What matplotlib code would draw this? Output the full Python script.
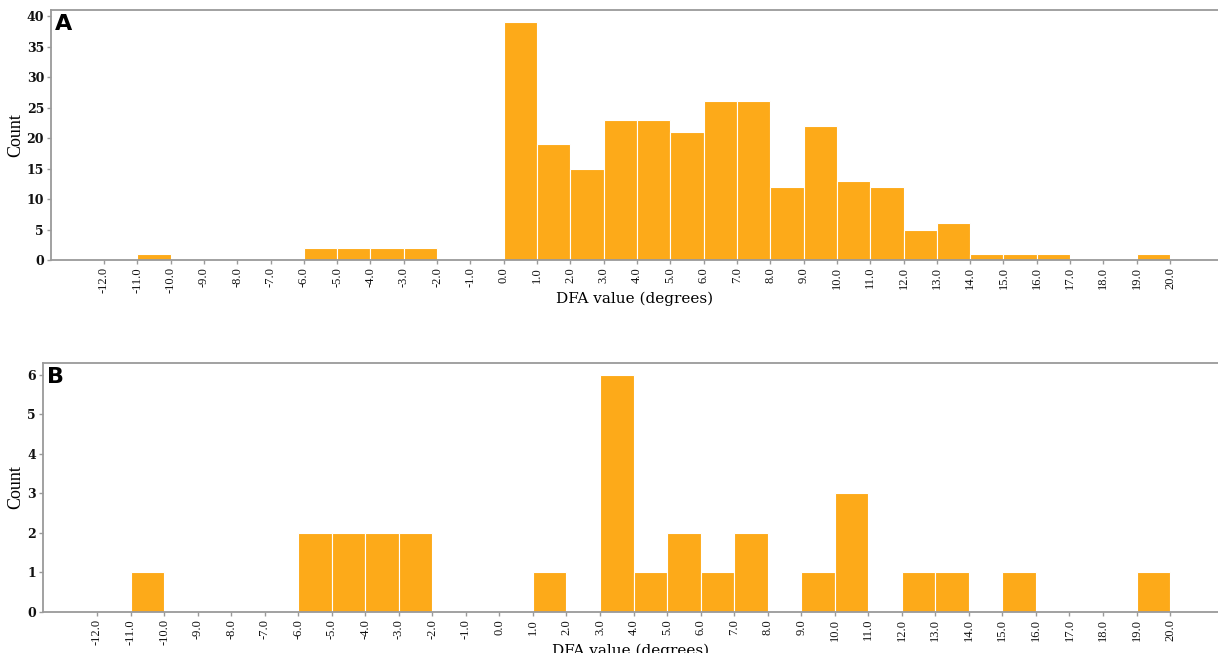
import matplotlib
matplotlib.use("Agg")
import matplotlib.pyplot as plt
import numpy as np

# Histogram bins: 1-degree wide, from -12 to 20
tick_values = np.arange(-12, 21, 1)
tick_labels = [f"{v:.1f}" for v in tick_values]

# Counts per bin (left edge -> count), panel A
counts_a_left = [-11, -6, -5, -4, -3, 0, 1, 2, 3, 4, 5, 6, 7, 8, 9, 10, 11, 12, 13, 14, 15, 16, 19]
counts_a = [1, 2, 2, 2, 2, 39, 19, 15, 23, 23, 21, 26, 26, 12, 22, 13, 12, 5, 6, 1, 1, 1, 1]

# Counts per bin (left edge -> count), panel B
counts_b_left = [-11, -6, -5, -4, -3, 1, 3, 4, 5, 6, 7, 9, 10, 12, 13, 15, 19]
counts_b = [1, 2, 2, 2, 2, 1, 6, 1, 2, 1, 2, 1, 3, 1, 1, 1, 1]

bar_color = "#fdaa19"
spine_color = "#9a9a9a"

W, H = 1218, 653
fig = plt.figure(figsize=(W / 100, H / 100), dpi=100)
ax_a = fig.add_axes([51 / W, 1 - 260 / H, 1 - 51 / W, 250 / H])
ax_b = fig.add_axes([43 / W, 1 - 612 / H, 1 - 43 / W, 249 / H])


def draw(ax, lefts, counts, xlim, ylim, yticks, label, ylabel_x):
    ax.bar(lefts, counts, width=1.0, align="edge", color=bar_color,
           edgecolor="white", linewidth=0.8)
    ax.set_xlim(*xlim)
    ax.set_ylim(*ylim)
    ax.set_xticks(tick_values)
    ax.set_xticklabels(tick_labels, rotation=90, family="Liberation Serif", fontsize=9)
    ax.set_yticks(yticks)
    ax.set_yticklabels([str(v) for v in yticks], family="DejaVu Serif",
                       fontsize=9, fontweight="bold")
    for side in ("left", "top", "bottom"):
        ax.spines[side].set_color(spine_color)
        ax.spines[side].set_linewidth(1.3)
    ax.spines["right"].set_visible(False)
    ax.tick_params(axis="both", colors=spine_color, length=3, width=1,
                   pad=2, labelcolor="#111111")
    ax.set_xlabel("DFA value (degrees)", family="DejaVu Serif", fontsize=11, labelpad=-1)
    ax.set_ylabel("Count", family="Liberation Serif", fontsize=13)
    ax.yaxis.set_label_coords(ylabel_x, 0.5)
    ax.text(0.003, 0.985, label, transform=ax.transAxes, ha="left", va="top",
            fontsize=16, fontweight="bold", family="DejaVu Sans")


draw(ax_a, counts_a_left, counts_a, (-13.59, 21.44), (0, 41),
     list(range(0, 41, 5)), "A", -0.023)
draw(ax_b, counts_b_left, counts_b, (-13.61, 21.43), (0, 6.3),
     list(range(0, 7)), "B", -0.016)

fig.savefig("out.png", dpi=100)
